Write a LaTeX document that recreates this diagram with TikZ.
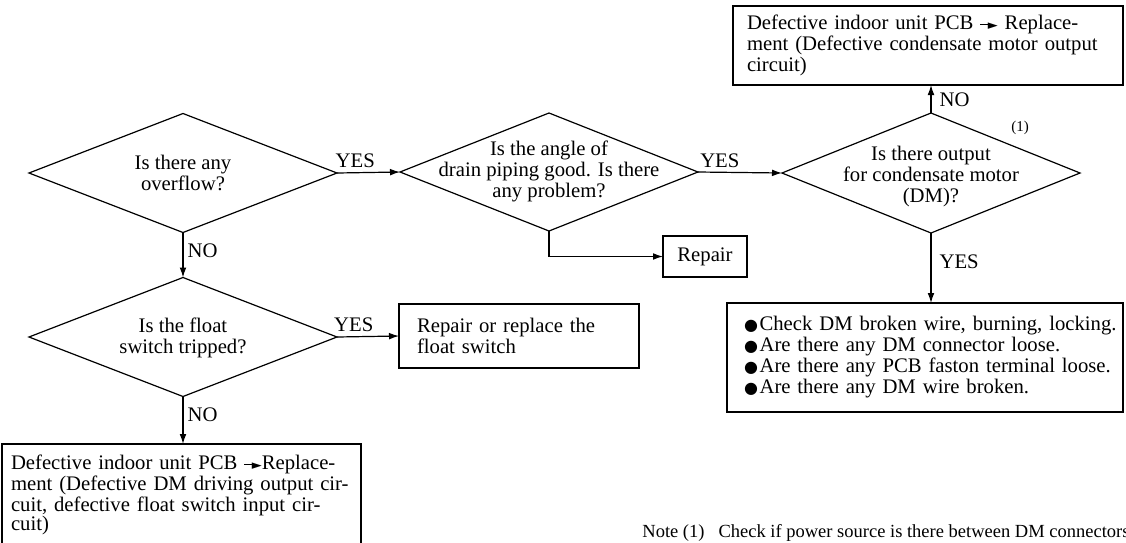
\documentclass[tikz,border=0pt]{standalone}
\usepackage{fontspec}
\setmainfont{Liberation Serif}
\newfontfamily\symfont{DejaVu Sans}
\usetikzlibrary{arrows.meta,shapes.geometric}

% small filled arrow and bullet used inside the texts
\newcommand{\pcbarrow}{\rule[2.2pt]{4.5pt}{0.55pt}\kern-0.8pt\raisebox{0.2pt}{\fontsize{6.5}{6.5}\symfont ►}}
\newcommand{\bdot}{{\fontsize{8}{8}\symfont ●}}
\newcommand{\fullline}[1]{\makebox[\hsize][s]{#1}}
\newcommand{\bitem}[1]{\makebox[\hsize][l]{\hspace*{1.5pt}\bdot\kern0.8pt#1}}

\begin{document}
\begin{tikzpicture}[x=0.5pt,y=-0.5pt,>={Latex[length=5pt,width=3.4pt]},
  every node/.style={font=\fontsize{10.35}{10.5}\selectfont},
  decision/.style={diamond,draw,line width=0.6pt,inner sep=0pt,outer sep=0pt},
  qtext/.style={align=center,inner sep=0pt},
  result/.style={rectangle,draw,line width=0.6pt,align=left,outer sep=0pt},
  flow/.style={->,line width=0.6pt},
  lbl/.style={inner sep=2pt}]
\useasboundingbox (0,0) rectangle (1126,542);
% questions
\node[decision,minimum width=154pt,minimum height=59.5pt] (q1) at (183,173) {};
\node[qtext] (q1txt) at (183,173) {Is there any\\overflow?};
\node[decision,minimum width=154pt,minimum height=59.5pt] (q2) at (183,337) {};
\node[qtext] (q2txt) at (183,338) {Is the float\\switch tripped?};
\node[decision,minimum width=149pt,minimum height=59pt] (q3) at (549,172) {};
\node[qtext] (q3txt) at (549,171) {Is the angle of\\drain piping good. Is there\\any problem?};
\node[decision,minimum width=149pt,minimum height=60pt] (q4) at (931,173) {};
\node[qtext] (q4txt) at (931,177) {Is there output\\for condensate motor\\(DM)?};
\node[font=\fontsize{7.5}{7.5}\selectfont] (fn1) at (1020,128) {(1)};
% results
\node[result,text width=181pt,inner xsep=7pt,minimum height=39.5pt] (pcbdm) at (928,45.5)
  {\fullline{Defective indoor unit PCB \pcbarrow\ Replace-}\\
   \fullline{ment (Defective condensate motor output}\\
   circuit)};
\node[result,text width=184pt,inner xsep=7pt,minimum height=54.5pt] (check) at (925,357.5)
  {\bitem{Check DM broken wire, burning, locking.}\\
   \bitem{Are there any DM connector loose.}\\
   \bitem{Are there any PCB faston terminal loose.}\\
   \bitem{Are there any DM wire broken.}};
\node[result,minimum width=42pt,minimum height=20.5pt] (repair) at (705,256.5) {Repair};
\node[result,text width=102pt,inner xsep=9pt,minimum height=32pt] (float) at (519,336)
  {Repair or replace the\\float switch};
\node[result,text width=170.5pt,inner xsep=4.5pt,minimum height=51pt,
  font=\fontsize{10.35}{9.4}\selectfont] (pcbfs) at (181.5,495)
  {\fullline{Defective indoor unit PCB \pcbarrow Replace-}\\
   \fullline{ment (Defective DM driving output cir-}\\
   \fullline{cuit, defective float switch input cir-}\\
   cuit)};
% connectors
\draw[flow] (q1.east) -- node[lbl,above,pos=0.29] (y1) {YES} (q3.west);
\draw[flow] (q3.east) -- node[lbl,above,pos=0.26] (y2) {YES} (q4.west);
\draw[flow] (q3.south) |- (repair.west);
\draw[flow] (q1.south) -- node[lbl,right,pos=0.4] (n1) {NO} (q2.north);
\draw[flow] (q2.east) -- node[lbl,above,pos=0.27] (y3) {YES} (float.west);
\draw[flow] (q2.south) -- node[lbl,right,pos=0.38] (n2) {NO} (pcbfs.north -| q2.south);
\draw[flow] (q4.north) -- node[lbl,right,pos=0.46,xshift=2pt] (n3) {NO} (pcbdm.south -| q4.north);
\draw[flow] (q4.south) -- node[lbl,right,pos=0.41,xshift=2pt] (y4) {YES} (check.north -| q4.south);
% footnote
\node[anchor=base west,inner sep=0pt,font=\fontsize{9.25}{9.25}\selectfont] (note) at (642,537)
  {Note (1)\hspace{7pt}Check if power source is there between DM connectors};
\end{tikzpicture}
\end{document}
